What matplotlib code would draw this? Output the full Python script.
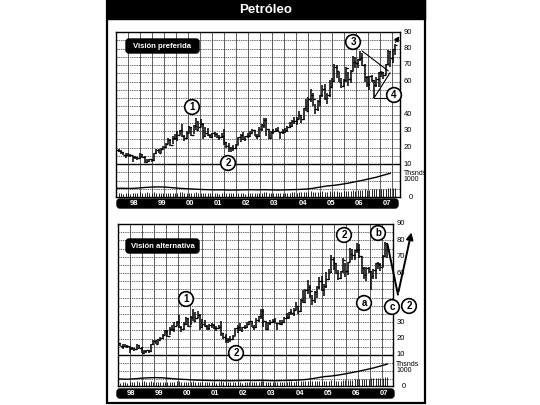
import numpy as np
import matplotlib.pyplot as plt
from matplotlib.patches import FancyBboxPatch, Rectangle

plt.rcParams['font.family'] = ['Liberation Sans', 'DejaVu Sans']

years = ['98', '99', '00', '01', '02', '03', '04', '05', '06', '07']

# monthly bars, Nov 1997 .. Oct 2007 (u$s por barril)
high = [19.8, 18.8,
        18.2, 17.3, 16.9, 16.9, 16.2, 15.0, 14.9, 14.4, 16.8, 16.0, 14.8, 13.0,
        13.2, 13.1, 16.9, 18.9, 19.0, 19.6, 21.0, 22.6, 25.5, 25.0, 27.0, 28.1,
        30.0, 30.8, 34.4, 27.5, 30.0, 33.0, 32.6, 33.6, 37.8, 36.0, 37.0, 35.0,
        32.2, 31.6, 28.0, 28.8, 29.5, 29.0, 27.5, 28.5, 31.0, 23.5, 22.5, 20.5,
        21.5, 22.0, 26.5, 28.4, 29.4, 27.0, 28.5, 29.9, 31.0, 30.5, 28.0, 32.7,
        34.0, 38.0, 37.8, 31.0, 30.0, 31.5, 32.0, 32.5, 29.5, 31.5, 31.6, 33.0,
        35.5, 36.4, 38.2, 38.5, 42.3, 40.0, 44.0, 49.4, 50.5, 55.7, 53.0, 46.5,
        49.0, 52.0, 57.6, 58.3, 53.2, 60.9, 62.3, 70.8, 69.8, 66.0, 62.0, 61.4,
        69.0, 66.0, 67.0, 75.3, 74.8, 73.9, 78.4, 77.5, 70.6, 63.5, 63.5, 64.0,
        61.0, 62.5, 66.0, 66.5, 66.0, 70.8, 78.8, 78.3, 80.0, 83.0]
low = [18.0, 17.0,
       16.1, 15.3, 13.7, 14.7, 14.5, 11.4, 12.8, 12.2, 13.2, 13.8, 10.9, 10.4,
       11.3, 11.4, 12.0, 15.9, 16.8, 16.7, 19.2, 19.6, 21.9, 20.9, 22.0, 24.6,
       24.0, 27.5, 26.2, 23.8, 25.0, 28.5, 26.9, 28.0, 30.5, 30.0, 32.5, 25.2,
       26.5, 27.0, 25.5, 25.5, 26.4, 25.6, 24.8, 26.0, 21.5, 20.0, 17.5, 17.5,
       17.9, 19.3, 21.5, 23.6, 24.5, 24.0, 25.7, 26.5, 28.5, 26.8, 25.0, 26.5,
       30.0, 32.0, 26.9, 25.0, 25.0, 28.0, 29.5, 29.5, 25.0, 28.0, 28.5, 29.6,
       32.0, 32.2, 34.5, 33.5, 37.5, 35.0, 36.5, 42.0, 42.0, 47.5, 45.0, 40.3,
       42.0, 45.0, 50.5, 49.0, 46.2, 50.9, 56.0, 60.0, 62.0, 59.5, 56.0, 56.4,
       60.0, 57.5, 59.0, 66.5, 68.0, 68.0, 72.5, 69.5, 59.5, 56.5, 55.0, 60.0,
       49.9, 56.5, 56.5, 62.5, 61.5, 64.0, 70.0, 69.0, 71.0, 76.0]
close = [18.3, 17.6,
         17.2, 15.4, 15.6, 15.4, 15.2, 14.2, 14.2, 13.4, 16.1, 14.4, 11.2, 12.1,
         12.8, 12.3, 16.8, 18.7, 16.8, 19.3, 20.5, 22.1, 24.5, 21.8, 26.0, 25.6,
         27.6, 30.4, 26.9, 25.7, 29.0, 32.5, 27.4, 33.1, 30.8, 32.7, 34.4, 26.8,
         28.7, 27.4, 26.3, 28.5, 28.4, 26.3, 26.3, 27.2, 23.4, 21.2, 19.4, 19.8,
         19.5, 21.7, 26.3, 27.3, 25.3, 26.9, 27.0, 28.9, 30.5, 27.2, 26.9, 31.2,
         33.5, 36.6, 31.0, 25.8, 29.6, 30.2, 30.5, 29.5, 29.2, 29.1, 30.4, 32.5,
         33.0, 36.2, 35.8, 37.4, 39.9, 37.1, 43.8, 42.1, 49.6, 51.8, 49.1, 43.5,
         48.2, 51.8, 55.4, 49.7, 52.0, 56.5, 60.6, 68.9, 66.2, 59.8, 57.3, 61.0,
         67.9, 61.4, 66.6, 71.9, 71.3, 73.9, 74.4, 70.3, 62.9, 58.7, 63.1, 61.0,
         58.1, 61.8, 65.9, 65.7, 64.0, 70.7, 78.2, 74.0, 79.5, 82.0]

# open interest (thousands), every 3 months
oi_month = list(range(0, 120, 3))
oi_k = [440, 440, 430, 450, 480, 500, 510, 500, 470, 440, 420, 400, 380, 370,
        360, 360, 350, 350, 360, 370, 360, 370, 360, 350, 360, 370, 380, 400,
        440, 500, 560, 590, 640, 700, 770, 840, 920, 1000, 1100, 1200]
# volume (thousands), monthly
vol_k = [180, 200,
         190, 170, 210, 180, 160, 220, 190, 200, 230, 190, 210, 240,
         200, 180, 230, 210, 190, 200, 180, 210, 220, 200, 190, 180,
         210, 230, 250, 200, 190, 210, 200, 190, 230, 220, 200, 210,
         190, 180, 200, 210, 190, 180, 170, 190, 230, 210, 200, 180,
         190, 200, 210, 190, 180, 170, 190, 200, 180, 190, 200, 210,
         220, 240, 260, 210, 190, 200, 190, 180, 200, 190, 200, 210,
         220, 230, 240, 220, 250, 230, 240, 260, 250, 280, 260, 240,
         250, 260, 280, 270, 250, 280, 270, 300, 290, 270, 260, 280,
         300, 290, 310, 330, 320, 340, 360, 350, 380, 370, 360, 380,
         420, 400, 410, 390, 400, 420, 440, 460, 450, 430]

ticks_pref = [90, 80, 70, 60, 40, 30, 20, 10]
ticks_alt = [90, 80, 70, 60, 30, 20, 10]

fig = plt.figure(figsize=(5.4, 4.05), dpi=100)


def panel(rect, n, xlim, ylim, ticks):
    ax = fig.add_axes(rect)
    ax.set_xlim(*xlim)
    ax.set_ylim(*ylim)
    ax.set_xticks([])
    ax.set_yticks([])
    for s in ax.spines.values():
        s.set_linewidth(1.0)
    for y in np.arange(-5, 90, 5):
        ax.axhline(y, color='#333333', lw=0.5, ls=(0, (2, 1.2)), zorder=1)
    ax.axhline(10, color='k', lw=1.0, zorder=1)
    for x in np.arange(xlim[0] + 5.12, xlim[1] - 1, 5.12):
        ax.axvline(x, color='#333333', lw=0.55, zorder=1)
    m = np.arange(n)
    h, l, c = np.array(high[:n]), np.array(low[:n]), np.array(close[:n])
    o = np.r_[c[0], c[:-1]]
    ax.vlines(m, l, h, color='k', lw=1.1, zorder=3)
    ax.hlines(o, m - 0.7, m, color='k', lw=0.9, zorder=3)
    ax.hlines(c, m, m + 0.7, color='k', lw=0.9, zorder=3)
    # open interest and volume in the lower strip
    k = 0.012
    om = [i for i in oi_month if i < n]
    ax.plot(om, -10 + np.array(oi_k[:len(om)]) * k, color='k', lw=1.0, zorder=3)
    ax.vlines(m, ylim[0], ylim[0] + np.array(vol_k[:n]) * k, color='k', lw=0.6, zorder=3)
    tr = ax.get_yaxis_transform()
    for t in ticks:
        ax.text(1.012, t, str(t), transform=tr, fontsize=5.5, va='center', ha='left')
    ax.text(1.012, 2.3, 'Thsnds\n1000', transform=tr, fontsize=5, va='center',
            ha='left', linespacing=0.85)
    ax.text(1.03, ylim[0], '0', transform=tr, fontsize=5.5, va='center', ha='left')
    return ax


ax1 = panel([116 / 540, 1 - 197 / 405, 284 / 540, 165 / 405], 120,
            (-0.17, 121.1), (-10, 90), ticks_pref)
ax2 = panel([118 / 540, 1 - 386 / 405, 275 / 540, 162 / 405], 118,
            (1.96, 119.4), (-9, 90), ticks_alt)

# preferred count: triangle of wave 4 and arrow up
ax1.plot([105, 116], [78.4, 66.5], color='k', lw=0.8, zorder=4)
ax1.plot([110, 116.8], [50, 65.2], color='k', lw=0.8, zorder=4)
ax1.plot([110, 116.5], [50, 50], color='k', lw=0.8, zorder=4)
ax1.annotate('', xy=(121.5, 88.8), xytext=(118.5, 82.5), annotation_clip=False,
             arrowprops=dict(arrowstyle='-|>', color='k', lw=0.9, mutation_scale=7))

# alternative count: drop to c and rally
ax2.plot([117.1, 121.5], [77.2, 47.0], color='k', lw=1.4, clip_on=False, zorder=4)
ax2.annotate('', xy=(127.5, 86.5), xytext=(121.5, 47.0), annotation_clip=False,
             arrowprops=dict(arrowstyle='-|>', color='k', lw=1.4, mutation_scale=10))

# page decoration in pixel coordinates
ov = fig.add_axes([0, 0, 1, 1], zorder=10)
ov.set_xlim(0, 540)
ov.set_ylim(405, 0)
ov.axis('off')
ov.patch.set_alpha(0)
ov.add_patch(Rectangle((106.5, 0.5), 318, 402, fill=False, ec='k', lw=1.6))
ov.add_patch(Rectangle((106.5, 0), 318, 18.5, fc='k', ec='k'))
ov.text(266, 9.8, 'Petróleo', color='white', fontsize=9.5, fontweight='bold',
        ha='center', va='center')

# year strips under each panel
for ax, x0, x1, y0 in [(ax1, 117, 398, 199), (ax2, 117, 394, 389)]:
    ov.add_patch(FancyBboxPatch((x0, y0), x1 - x0, 9, boxstyle='round,pad=0,rounding_size=3',
                                fc='k', ec='k', zorder=1))
    for i, yl in enumerate(years):
        px = ax.transData.transform((7.5 + 12 * i, 0))[0]
        ov.text(px, y0 + 4.8, yl, color='white', fontsize=5.5, fontweight='bold',
                ha='center', va='center', zorder=2)

for y0, lab in [(39, 'Visión preferida'), (239, 'Visión alternativa')]:
    ov.add_patch(FancyBboxPatch((126, y0), 73, 14, boxstyle='round,pad=0,rounding_size=3',
                                fc='k', ec='k'))
    ov.text(162.5, y0 + 7.3, lab, color='white', fontsize=5.6, fontweight='bold',
            ha='center', va='center')

circles = [(192, 107, '1'), (228, 163, '2'), (353, 42, '3'), (394, 95, '4'),
           (186, 299, '1'), (236, 353, '2'), (344, 235, '2'), (378, 233, 'b'),
           (364, 303, 'a'), (392, 307, 'c'), (409, 306, '2')]
for x, y, s in circles:
    ov.text(x, y, s, fontsize=7, fontweight='bold', ha='center', va='center',
            bbox=dict(boxstyle='circle,pad=0.24', fc='white', ec='k', lw=1.2))

fig.savefig('out.png', dpi=100)
